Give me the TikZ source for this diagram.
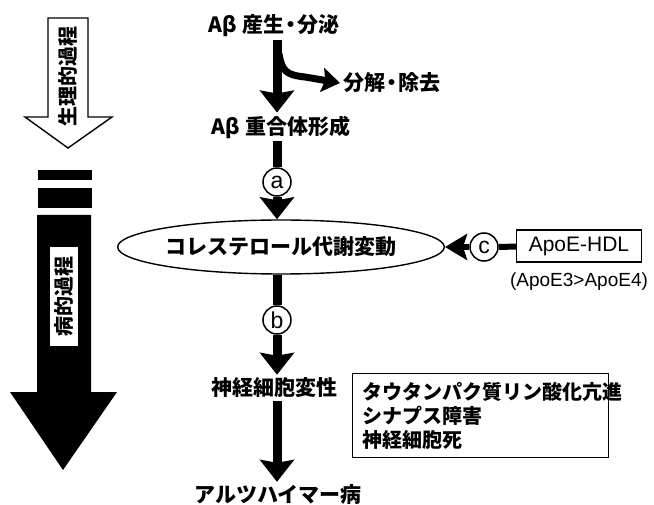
\documentclass[tikz,border=0pt]{standalone}
\usepackage{fontspec}
\setmainfont{Liberation Sans}
\newfontfamily\jp{Noto Sans CJK JP}
\usetikzlibrary{arrows.meta,shapes.geometric}
\newcommand{\ndot}{\kern-4pt・\kern-4pt}
\begin{document}
\begin{tikzpicture}[x=1pt,y=-1pt,
  lbl/.style={inner sep=3pt, font=\jp\bfseries\fontsize{21}{24}\selectfont},
  fat/.style={line width=9pt, -{Stealth[length=22pt,width=34pt,inset=3pt]}},
  plainfat/.style={line width=9pt},
  circ/.style={circle, draw, line width=1.5pt, minimum size=28pt, inner sep=0pt, fill=white, font=\fontsize{23}{23}\selectfont},
  outline/.style={line width=1.4pt},
]
\useasboundingbox[fill=white] (0,0) rectangle (654,505);
\coordinate (col) at (277,0);

% ---- left process arrows
\draw[outline, fill=white] (48,18) -- (88,18) -- (88,117) -- (112,117) -- (68,148) -- (25,117) -- (48,117) -- cycle;
\node[rotate=90, inner sep=0pt, font=\jp\bfseries\fontsize{20}{20}\selectfont] (phys) at (68,77) {生理的過程};
\fill (38,170) rectangle (92,180);
\fill (38,188) rectangle (92,208);
\fill (37,215) -- (91,215) -- (91,392) -- (117,392) -- (63,470) -- (10,392) -- (37,392) -- cycle;
\node[fill=white, rotate=90, minimum width=99pt, minimum height=28pt, inner sep=0pt, font=\jp\bfseries\fontsize{20}{20}\selectfont] (path) at (64,297) {病的過程};

% ---- main column
\node[lbl] (n1) at (274,26) {Aβ 産生\ndot 分泌};
\node[lbl] (n2) at (281,127) {Aβ 重合体形成};
\node[lbl, anchor=west] (dec) at (340,83) {分解\ndot 除去};
\coordinate (br) at (279,54);
\draw[line width=7pt, -{Stealth[length=18pt,width=24pt,inset=3pt]}] (br) .. controls (282,71) and (286,75) .. (305,77) -- (dec.west);
\draw[fat] (n1.south -| col) -- (n2.north -| col);

\node[circ] (a) at (277,182) {a};
\node[ellipse, draw, outline, minimum width=300pt, minimum height=54pt, inner sep=0pt, font=\jp\bfseries\fontsize{21}{24}\selectfont] (ell) at (281,247) {コレステロール代謝変動};
\draw[plainfat] (n2.south -| col) -- (a);
\draw[fat] (a) -- (a |- ell.north);

\node[circ] (c) at (484,247) {c};
\node[draw, outline, minimum width=125pt, minimum height=32pt, inner sep=0pt, font=\fontsize{21}{24}\selectfont] (apo) at (579,246) {ApoE-HDL};
\node[inner sep=0pt, font=\fontsize{19}{22}\selectfont] (apo2) at (579,282) {(ApoE3>ApoE4)};
\draw[line width=6pt] (apo) -- (c);
\draw[line width=6pt, -{Stealth[length=22pt,width=26pt,inset=4pt]}] (c) -- (ell.east);

\node[circ] (b) at (277,320) {b};
\node[lbl] (n3) at (274,388) {神経細胞変性};
\draw[plainfat] (ell.south -| col) -- (b);
\draw[fat] (b) -- (n3.north -| col);

\node[draw, outline, anchor=north west, minimum width=256pt, minimum height=84pt, inner xsep=9pt, inner ysep=4pt, text width=236pt, align=left, font=\jp\bfseries\fontsize{20}{24}\selectfont] (box) at (352,373) {タウタンパク質リン酸化亢進\\シナプス障害\\神経細胞死};

\node[lbl] (n4) at (278,495) {アルツハイマー病};
\draw[fat] (n3.south -| col) -- (n4.north -| col);
\end{tikzpicture}
\end{document}
